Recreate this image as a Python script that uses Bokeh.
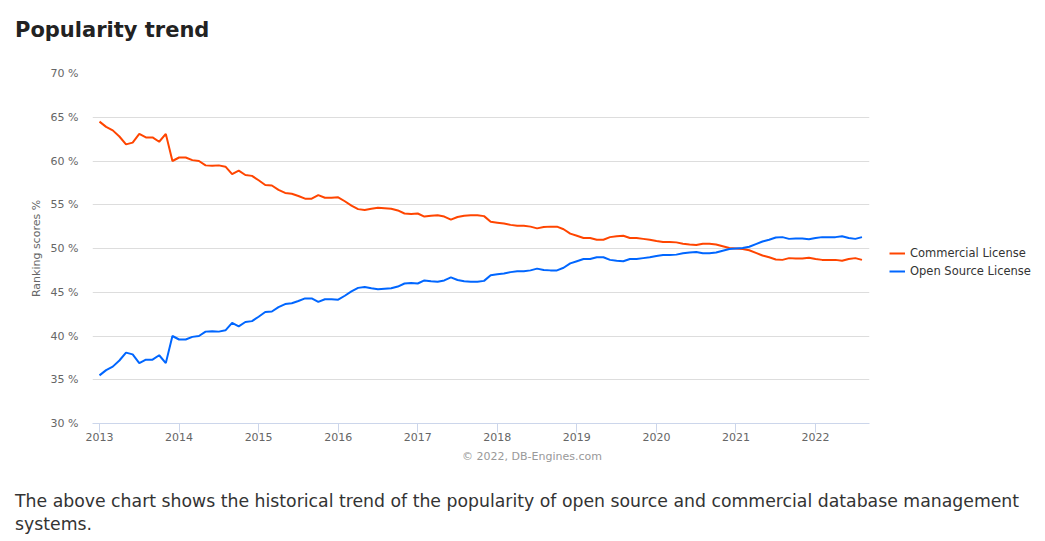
from bokeh.plotting import figure
from bokeh.models import (Range1d, FixedTicker, PrintfTickFormatter,
                          Legend, LegendItem, ColumnDataSource, Div)
from bokeh.layouts import column
from bokeh.embed import file_html
from bokeh.resources import INLINE

# ---------------- data (monthly, Jan 2013 .. Aug 2022) ----------------
months = [f"{y}-{m:02d}" for y in range(2013, 2023) for m in range(1, 13)][:116]

commercial = [
    64.5, 63.9, 63.5, 62.8, 61.9, 62.1, 63.1, 62.7, 62.7, 62.2, 63.1, 60.0,
    60.4, 60.4, 60.1, 60.0, 59.5, 59.45, 59.5, 59.35, 58.5, 58.9, 58.4, 58.3,
    57.8, 57.25, 57.2, 56.7, 56.35, 56.25, 56.0, 55.7, 55.7, 56.1, 55.8, 55.8,
    55.85, 55.4, 54.9, 54.5, 54.4, 54.55, 54.65, 54.6, 54.55, 54.35, 54.0, 53.95,
    54.0, 53.65, 53.75, 53.8, 53.65, 53.3, 53.6, 53.75, 53.8, 53.8, 53.7, 53.05,
    52.95, 52.85, 52.7, 52.6, 52.6, 52.5, 52.3, 52.45, 52.5, 52.5, 52.2, 51.7,
    51.45, 51.2, 51.2, 51.0, 51.0, 51.3, 51.4, 51.45, 51.2, 51.2, 51.1, 51.0,
    50.85, 50.75, 50.75, 50.7, 50.55, 50.45, 50.4, 50.55, 50.55, 50.45, 50.25, 50.05,
    50.0, 49.95, 49.8, 49.5, 49.2, 49.0, 48.75, 48.7, 48.9, 48.85, 48.85, 48.95,
    48.8, 48.7, 48.7, 48.7, 48.6, 48.8, 48.9, 48.7,
]

open_source = [
    35.5, 36.1, 36.5, 37.2, 38.1, 37.9, 36.9, 37.3, 37.3, 37.8, 36.9, 40.0,
    39.6, 39.6, 39.9, 40.0, 40.5, 40.55, 40.5, 40.65, 41.5, 41.1, 41.6, 41.7,
    42.2, 42.75, 42.8, 43.3, 43.65, 43.75, 44.0, 44.3, 44.3, 43.9, 44.2, 44.2,
    44.15, 44.6, 45.1, 45.5, 45.6, 45.45, 45.35, 45.4, 45.45, 45.65, 46.0, 46.05,
    46.0, 46.35, 46.25, 46.2, 46.35, 46.7, 46.4, 46.25, 46.2, 46.2, 46.3, 46.95,
    47.05, 47.15, 47.3, 47.4, 47.4, 47.5, 47.7, 47.55, 47.5, 47.5, 47.8, 48.3,
    48.55, 48.8, 48.8, 49.0, 49.0, 48.7, 48.6, 48.55, 48.8, 48.8, 48.9, 49.0,
    49.15, 49.25, 49.25, 49.3, 49.45, 49.55, 49.6, 49.45, 49.45, 49.55, 49.75, 49.95,
    50.0, 50.05, 50.2, 50.5, 50.8, 51.0, 51.25, 51.3, 51.1, 51.15, 51.15, 51.05,
    51.2, 51.3, 51.3, 51.3, 51.4, 51.2, 51.1, 51.3,
]

year_ticks = [2013, 2014, 2015, 2016, 2017, 2018, 2019, 2020, 2021, 2022]
y_ticks = [30, 35, 40, 45, 50, 55, 60, 65, 70]

series_names = ["Commercial License", "Open Source License"]
series_colors = ["#ff4500", "#0066ff"]

title_text = "Popularity trend"
y_title = "Ranking scores %"
credits_text = "\u00a9 2022, DB-Engines.com"
caption_1 = ("The above chart shows the historical trend of the popularity of open "
             "source and commercial database management")
caption_2 = "systems."

# ---------------- build ----------------
x = [int(s[:4]) + (int(s[5:]) - 1) / 12 for s in months]
src = ColumnDataSource(dict(x=x, com=commercial, oss=open_source))

FONT = "DejaVu Sans"

title_div = Div(text=title_text, width=1022, height=42, margin=(18, 0, 0, 15),
                styles={"font-family": FONT, "font-size": "21px",
                        "font-weight": "bold", "color": "#222222",
                        "line-height": "24px", "white-space": "nowrap"})

p = figure(frame_width=777, frame_height=350, output_backend="svg",
           toolbar_location=None,
           x_range=Range1d(2012.912, 2022.678), y_range=Range1d(30, 70),
           min_border_left=92, min_border_right=168,
           min_border_top=13, min_border_bottom=25)
p.outline_line_color = None
p.background_fill_color = "white"
p.border_fill_color = "white"

# grid
p.xgrid.grid_line_color = None
p.ygrid.ticker = FixedTicker(ticks=y_ticks)
p.ygrid.grid_line_color = "#dddddd"
p.ygrid.grid_line_width = 1

# y axis
p.yaxis.ticker = FixedTicker(ticks=y_ticks)
p.yaxis.formatter = PrintfTickFormatter(format="%d %%")
p.yaxis.axis_line_color = None
p.yaxis.major_tick_line_color = None
p.yaxis.minor_tick_line_color = None
p.yaxis.major_label_standoff = 8
p.yaxis.major_label_text_color = "#666666"
p.yaxis.major_label_text_font = FONT
p.yaxis.major_label_text_font_size = "11px"
p.yaxis.axis_label = y_title
p.yaxis.axis_label_text_font = FONT
p.yaxis.axis_label_text_font_size = "11px"
p.yaxis.axis_label_text_font_style = "normal"
p.yaxis.axis_label_text_color = "#666666"
p.yaxis.axis_label_standoff = 5

# x axis
p.xaxis.ticker = FixedTicker(ticks=year_ticks)
p.xaxis.formatter = PrintfTickFormatter(format="%d")
p.xaxis.axis_line_color = "#ccd6eb"
p.xaxis.major_tick_line_color = "#ccd6eb"
p.xaxis.major_tick_out = 9
p.xaxis.major_tick_in = 0
p.xaxis.minor_tick_line_color = None
p.xaxis.major_label_standoff = 0
p.xaxis.major_label_text_color = "#666666"
p.xaxis.major_label_text_font = FONT
p.xaxis.major_label_text_font_size = "11px"

# lines
r_com = p.line("x", "com", source=src, line_color=series_colors[0], line_width=2)
r_oss = p.line("x", "oss", source=src, line_color=series_colors[1], line_width=2)

legend = Legend(items=[LegendItem(label=series_names[0], renderers=[r_com]),
                       LegendItem(label=series_names[1], renderers=[r_oss])],
                location=(20, 143), orientation="vertical",
                glyph_width=16, glyph_height=18, label_height=18,
                label_standoff=5, spacing=0, padding=0, margin=0,
                border_line_color=None, background_fill_alpha=0,
                label_text_font=FONT, label_text_font_size="11.5px",
                label_text_color="#333333")
p.add_layout(legend, "right")

credits_div = Div(text=credits_text, width=200, height=14, margin=(2, 0, 0, 432),
                  styles={"font-family": FONT, "font-size": "11px",
                          "color": "#999999", "line-height": "14px",
                          "text-align": "center", "white-space": "nowrap"})

caption_div = Div(text=caption_1 + "<br>" + caption_2, width=1025, height=50,
                  margin=(26, 0, 0, 15),
                  styles={"font-family": FONT, "font-size": "17.3px",
                          "color": "#333333", "line-height": "23px",
                          "white-space": "nowrap"})

layout = column(title_div, p, credits_div, caption_div, spacing=0)

open("out.html", "w").write(file_html(layout, INLINE))
